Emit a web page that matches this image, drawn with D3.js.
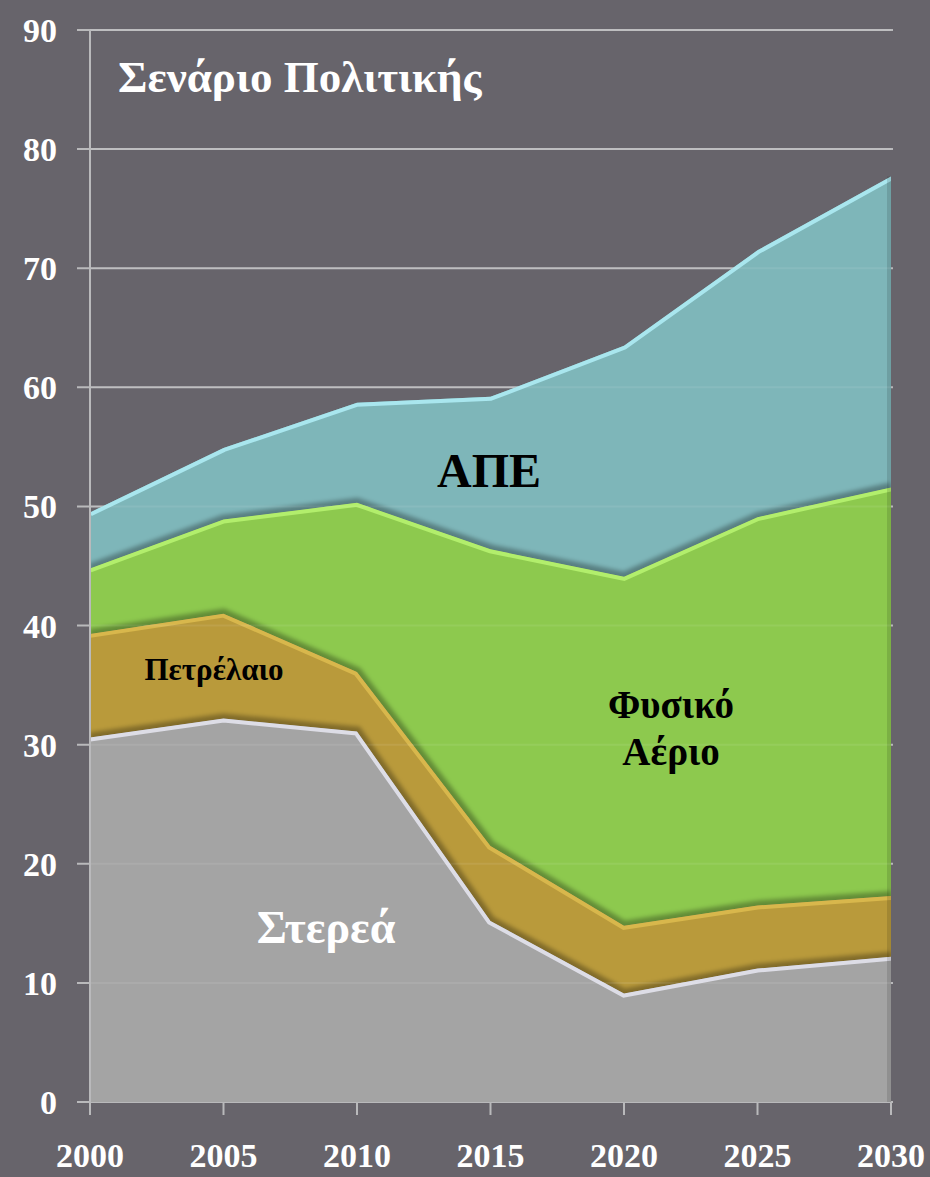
<!DOCTYPE html>
<html>
<head>
<meta charset="utf-8">
<script src="https://cdn.jsdelivr.net/npm/d3@7"></script>
<style>
    html, body { margin: 0; padding: 0; background: #67646b; }
    svg { display: block; }
</style>
</head>
<body>
<div id="chart"></div>
<script>
// chart data
const years = [2000, 2005, 2010, 2015, 2020, 2025, 2030];
const solids = [30.6, 32.2, 31.1, 15.2, 9.1, 11.2, 12.2];
const oil = [8.7, 8.8, 5.0, 6.3, 5.7, 5.3, 5.1];
const gas = [5.5, 7.9, 14.2, 24.9, 29.3, 32.6, 34.3];
const res = [4.7, 6.0, 8.4, 12.8, 19.4, 22.4, 26.1];
const seriesKeys = ["solids", "oil", "gas", "res"];
const yTicks = [0, 10, 20, 30, 40, 50, 60, 70, 80, 90];
const xTicks = [2000, 2005, 2010, 2015, 2020, 2025, 2030];

const colors = {
    solids: { fill: "#a4a4a4", light: "#dddde6" },
    oil: { fill: "#b99a3b", light: "#d8b74c" },
    gas: { fill: "#8dc94e", light: "#b2ee6c" },
    res: { fill: "#7eb6b9", light: "#a9e6ee" }
};

const width = 930, height = 1177;
const margin = { top: 30, right: 39, bottom: 75, left: 90 };

const svg = d3.select("#chart").append("svg")
    .attr("width", width)
    .attr("height", height);

svg.append("rect")
    .attr("width", width)
    .attr("height", height)
    .attr("fill", "#67646b");

const x = d3.scaleLinear()
    .domain([2000, 2030])
    .range([margin.left, width - margin.right]);

const y = d3.scaleLinear()
    .domain([0, 90])
    .range([height - margin.bottom, margin.top]);

const table = years.map((yr, i) => ({
    year: yr, solids: solids[i], oil: oil[i], gas: gas[i], res: res[i]
}));
const stacked = d3.stack().keys(seriesKeys)(table);

// gridlines (behind the areas)
svg.append("g")
    .selectAll("line")
    .data(yTicks)
    .join("line")
    .attr("x1", margin.left - 13)
    .attr("x2", width - margin.right + 2)
    .attr("y1", d => y(d))
    .attr("y2", d => y(d))
    .attr("stroke", "#b9b9bb")
    .attr("stroke-width", 2);

const area = d3.area()
    .x(d => x(d.data.year))
    .y0(d => y(d[0]))
    .y1(d => y(d[1]));

const topLine = d3.line()
    .x(d => x(d.data.year))
    .y(d => y(d[1]));

const bottomLine = d3.line()
    .x(d => x(d.data.year))
    .y(d => y(d[0]));

const defs = svg.append("defs");
defs.append("filter")
    .attr("id", "soft")
    .attr("x", "-5%").attr("y", "-50%")
    .attr("width", "110%").attr("height", "200%")
    .append("feGaussianBlur")
    .attr("stdDeviation", 2);

stacked.forEach(layer => {
    defs.append("clipPath")
        .attr("id", "clip-" + layer.key)
        .append("path")
        .attr("d", area(layer));
});

const areas = svg.append("g");

areas.selectAll("path.layer")
    .data(stacked)
    .join("path")
    .attr("class", "layer")
    .attr("d", area)
    .attr("fill", d => colors[d.key].fill);

// bevel: dark shade along the lower edge of each band
stacked.forEach(layer => {
    areas.append("path")
        .attr("clip-path", `url(#clip-${layer.key})`)
        .attr("d", bottomLine(layer))
        .attr("fill", "none")
        .attr("stroke", "#000")
        .attr("stroke-opacity", 0.3)
        .attr("stroke-width", 10)
        .attr("filter", "url(#soft)");
});

// bevel: light rim along the upper edge of each band
stacked.forEach(layer => {
    areas.append("path")
        .attr("clip-path", `url(#clip-${layer.key})`)
        .attr("d", topLine(layer))
        .attr("fill", "none")
        .attr("stroke", colors[layer.key].light)
        .attr("stroke-width", 8);
});

// right edge shade
areas.append("rect")
    .attr("x", x(2030) - 4)
    .attr("y", y(d3.max(stacked[3], d => d[1])))
    .attr("width", 4)
    .attr("height", y(0) - y(d3.max(stacked[3], d => d[1])))
    .attr("fill", "#000")
    .attr("opacity", 0.12);

// faint gridlines showing through the bands
svg.append("g")
    .selectAll("line")
    .data(yTicks.filter(d => d > 0))
    .join("line")
    .attr("x1", margin.left)
    .attr("x2", width - margin.right)
    .attr("y1", d => y(d))
    .attr("y2", d => y(d))
    .attr("stroke", "#fff")
    .attr("stroke-opacity", 0.08)
    .attr("stroke-width", 2);

// axes
const axisColor = "#b9b9bb";
svg.append("line")
    .attr("x1", margin.left).attr("x2", margin.left)
    .attr("y1", y(90)).attr("y2", y(0))
    .attr("stroke", axisColor).attr("stroke-width", 2);

svg.append("g")
    .selectAll("line")
    .data(xTicks)
    .join("line")
    .attr("x1", d => x(d)).attr("x2", d => x(d))
    .attr("y1", y(0)).attr("y2", y(0) + 13)
    .attr("stroke", axisColor)
    .attr("stroke-width", 2);

svg.append("g")
    .selectAll("text")
    .data(yTicks)
    .join("text")
    .attr("x", 57)
    .attr("y", d => y(d) + 12)
    .attr("text-anchor", "end")
    .attr("font-family", "Liberation Serif, serif")
    .attr("font-weight", "bold")
    .attr("font-size", 34)
    .attr("fill", "#fff")
    .text(d => d);

svg.append("g")
    .selectAll("text")
    .data(xTicks)
    .join("text")
    .attr("x", d => x(d))
    .attr("y", 1167)
    .attr("text-anchor", "middle")
    .attr("font-family", "Liberation Serif, serif")
    .attr("font-weight", "bold")
    .attr("font-size", 34)
    .attr("fill", "#fff")
    .text(d => d);

// titles and band labels
const labels = [
    { text: "Σενάριο Πολιτικής", x: 118, y: 92, size: 45, color: "#fff", anchor: "start" },
    { text: "ΑΠΕ", x: 489, y: 487, size: 48, color: "#000", anchor: "middle" },
    { text: "Πετρέλαιο", x: 214, y: 680, size: 31, color: "#000", anchor: "middle" },
    { text: "Φυσικό", x: 671, y: 718, size: 39, color: "#000", anchor: "middle" },
    { text: "Αέριο", x: 671, y: 765, size: 39, color: "#000", anchor: "middle" },
    { text: "Στερεά", x: 326, y: 943, size: 46, color: "#fff", anchor: "middle" }
];

svg.append("g")
    .selectAll("text")
    .data(labels)
    .join("text")
    .attr("x", d => d.x)
    .attr("y", d => d.y)
    .attr("text-anchor", d => d.anchor)
    .attr("font-family", "Liberation Serif, serif")
    .attr("font-weight", "bold")
    .attr("font-size", d => d.size)
    .attr("fill", d => d.color)
    .text(d => d.text);
</script>
</body>
</html>
